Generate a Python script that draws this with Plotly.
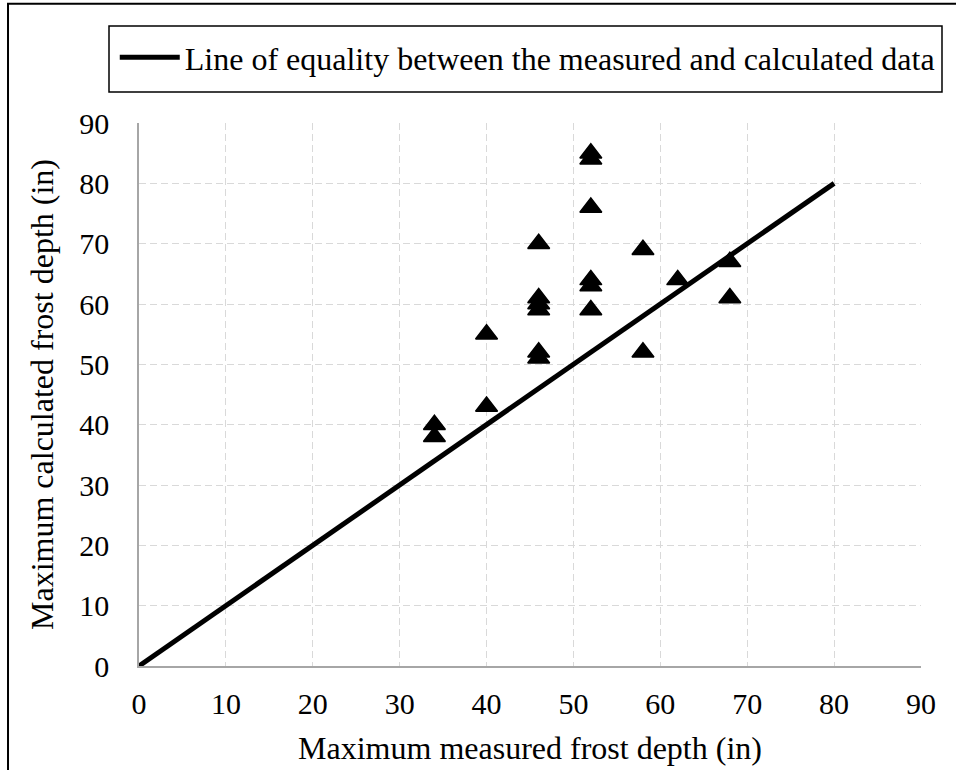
import plotly.graph_objects as go

# Maximum frost depth per site: measured vs calculated (inches)
measured = [34, 34, 40, 40, 46, 46, 46, 46, 46, 46, 52, 52, 52, 52, 52, 52, 58, 58, 62, 68, 68]
calculated = [40, 38, 55, 43, 70, 61, 60, 59, 52, 51, 85, 84, 76, 64, 63, 59, 69, 52, 64, 67, 61]

# Line of equality
equality_x = [0, 80]
equality_y = [0, 80]

tick_vals = [0, 10, 20, 30, 40, 50, 60, 70, 80, 90]

FONT = "Liberation Serif, Times New Roman, serif"

fig = go.Figure()

fig.add_trace(go.Scatter(
    x=equality_x, y=equality_y, mode="lines",
    line=dict(color="black", width=5),
    name="Line of equality between the measured and calculated data",
    showlegend=True,
))

fig.add_trace(go.Scatter(
    x=measured, y=calculated, mode="markers",
    marker=dict(symbol="triangle-up", size=19, color="black",
                line=dict(color="black", width=1.5)),
    showlegend=False,
    name="Sites",
))

axis_common = dict(
    range=[0, 90],
    tickvals=tick_vals,
    showgrid=True,
    gridcolor="#d9d9d9",
    gridwidth=1,
    griddash="7px,4px",
    zeroline=False,
    showline=True,
    linecolor="#a6a6a6",
    linewidth=1.5,
    ticks="",
    tickfont=dict(family=FONT, size=30, color="black"),
    fixedrange=True,
)

fig.update_xaxes(
    **axis_common,
    title=dict(text="Maximum measured frost depth (in)",
               font=dict(family=FONT, size=32, color="black"), standoff=18),
    ticklabelstandoff=10,
)
fig.update_yaxes(
    **axis_common,
    title=dict(text="Maximum calculated frost depth (in)",
               font=dict(family=FONT, size=32, color="black"), standoff=16),
    ticklabelstandoff=22,
)

# Outer frame around the chart area
fig.add_shape(type="rect", xref="paper", yref="paper",
              x0=-0.1675, x1=1.07, y0=-0.23, y1=1.2195,
              line=dict(color="black", width=2), fillcolor="rgba(0,0,0,0)",
              layer="above")

# Border box around the legend
fig.add_shape(type="rect", xref="paper", yref="paper",
              x0=-0.03836, x1=1.02685, y0=1.05709, y1=1.17864,
              line=dict(color="black", width=1.5), fillcolor="rgba(0,0,0,0)",
              layer="above")

fig.update_layout(
    width=956, height=770,
    margin=dict(l=139, r=35, t=123, b=104, autoexpand=False),
    paper_bgcolor="white",
    plot_bgcolor="white",
    font=dict(family=FONT, color="black"),
    legend=dict(
        x=-0.031, y=1.1713, xanchor="left", yanchor="top",
        borderwidth=0,
        bgcolor="rgba(0,0,0,0)",
        font=dict(family=FONT, size=32, color="black"),
        itemwidth=60,
    ),
    showlegend=True,
)

fig.write_html("out.html")
